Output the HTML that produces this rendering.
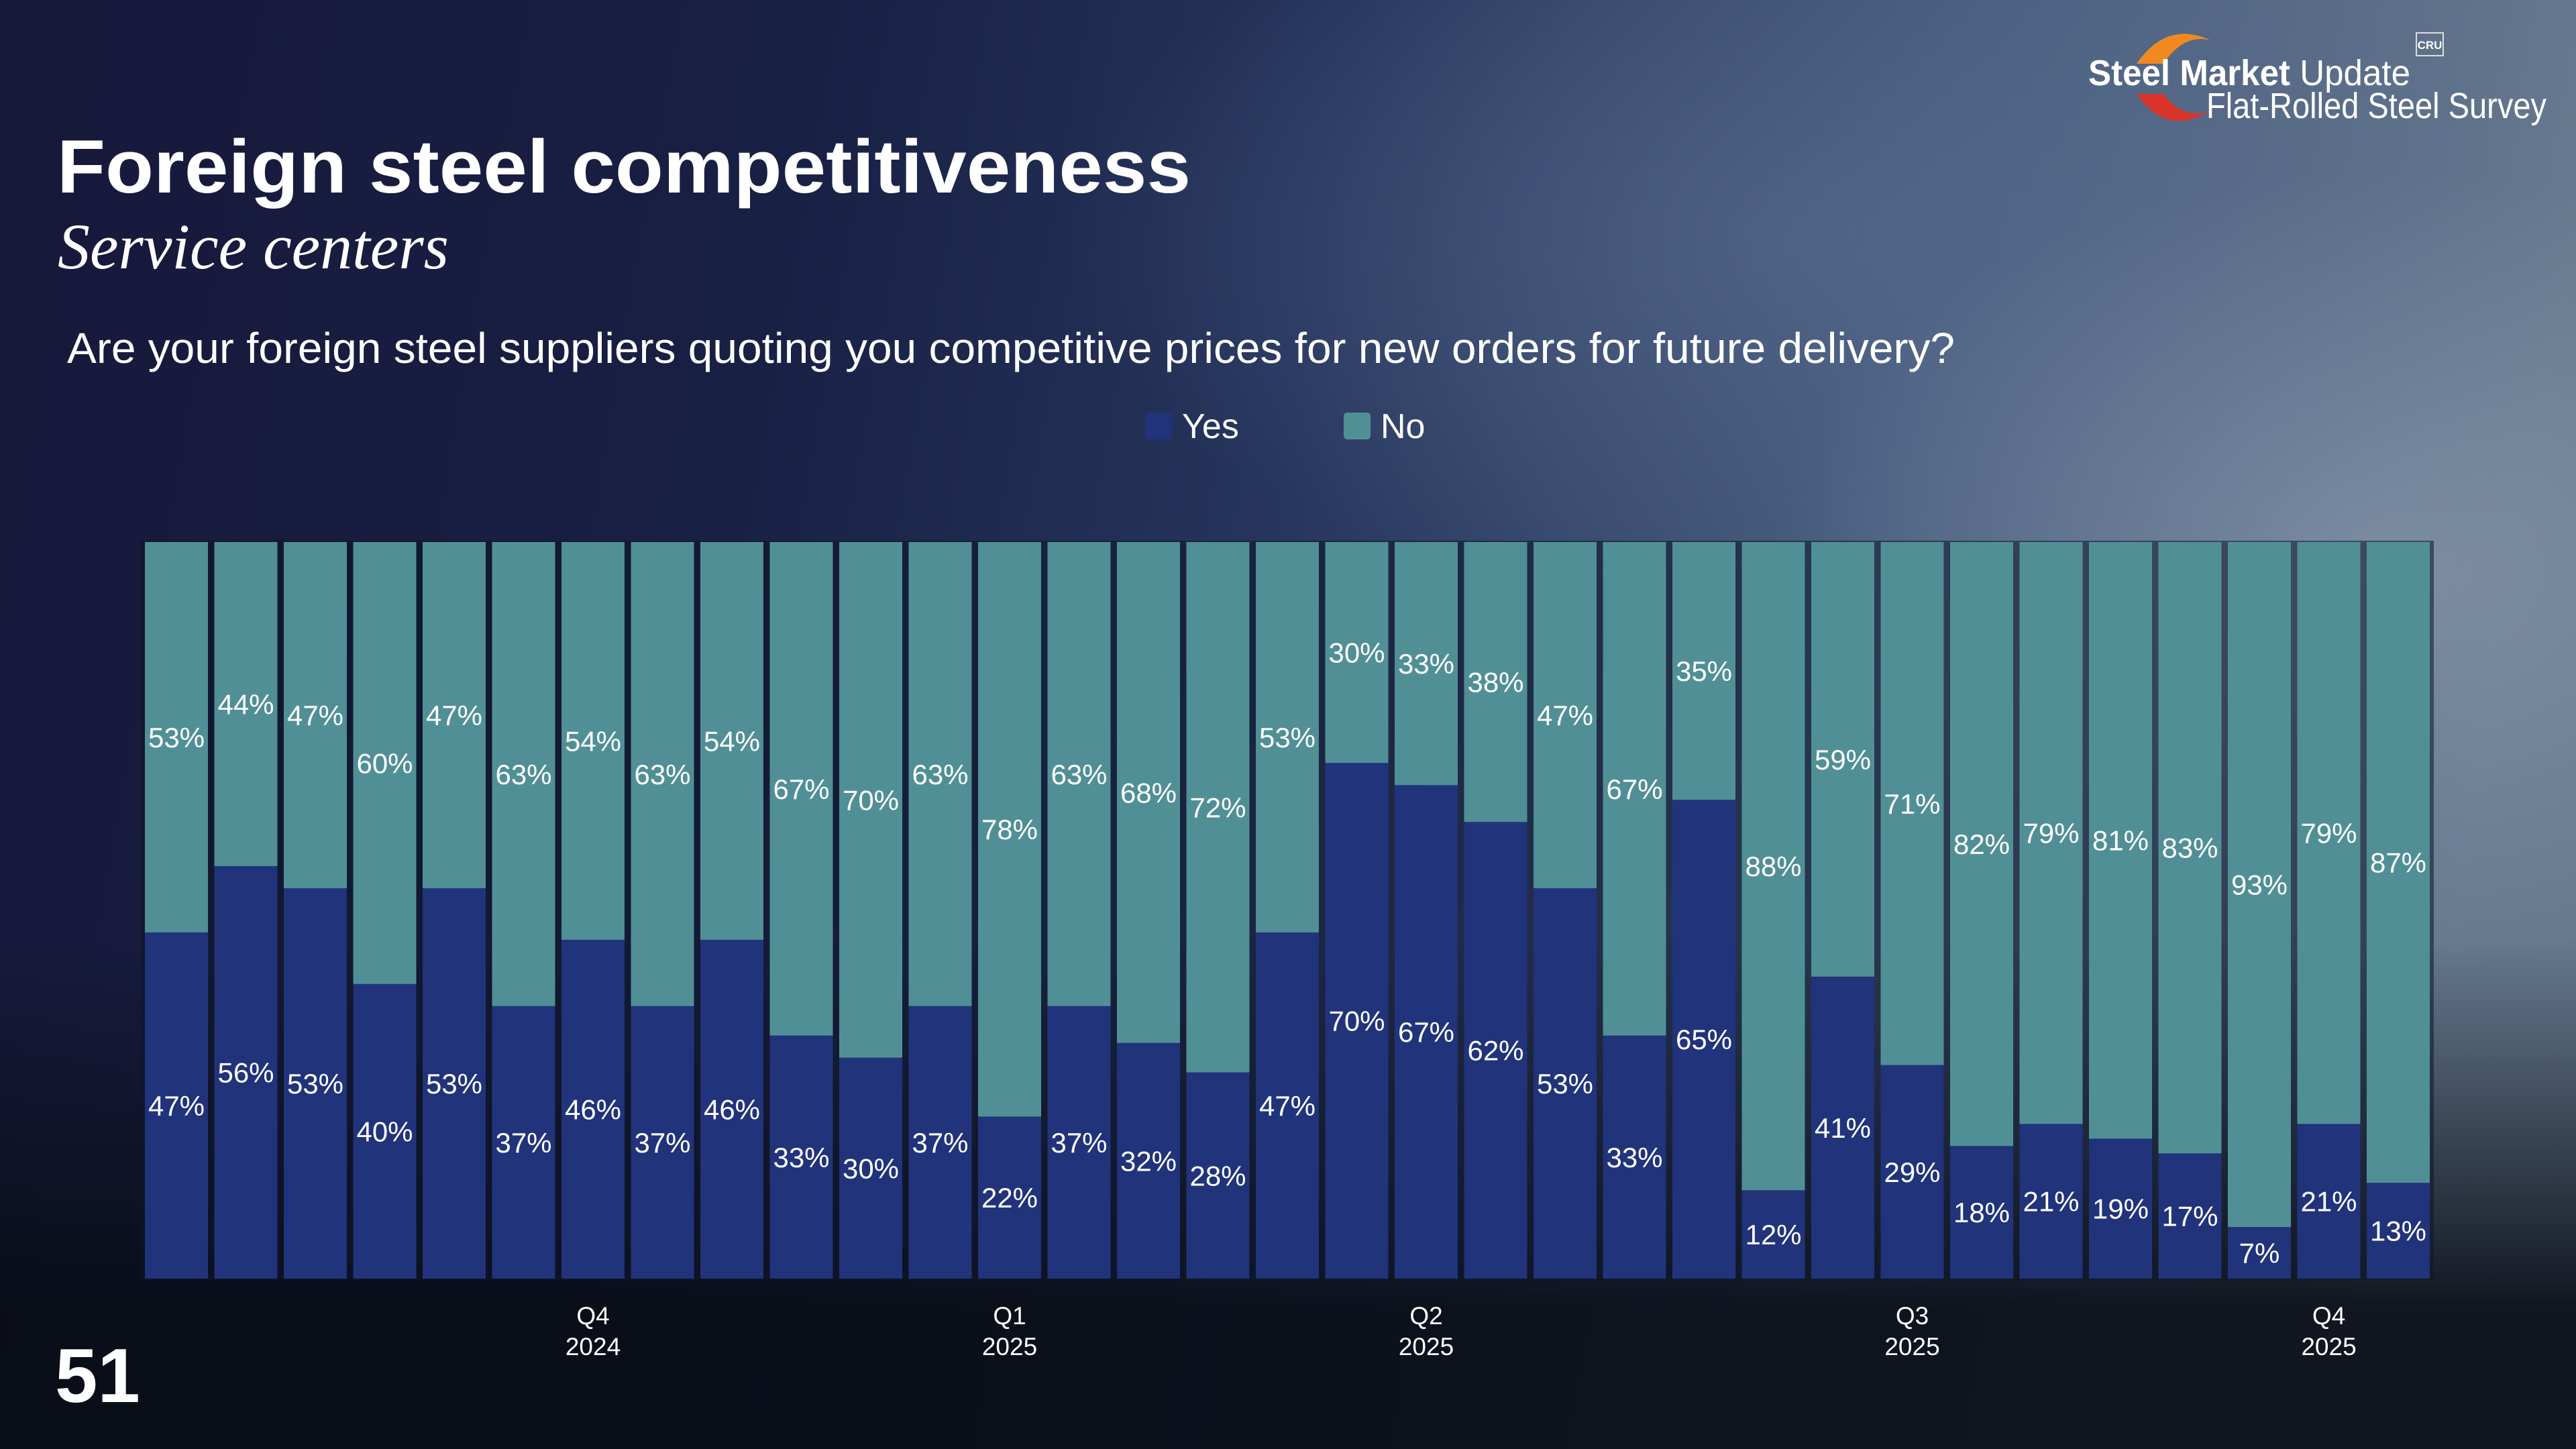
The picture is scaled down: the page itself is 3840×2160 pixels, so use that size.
<!DOCTYPE html>
<html><head><meta charset="utf-8"><style>
html,body{margin:0;padding:0;width:3840px;height:2160px;overflow:hidden;background:#0d1220;}
#bg{position:absolute;left:0;top:0;width:3840px;height:2160px;
background:
radial-gradient(ellipse 1300px 850px at 3550px 850px, rgba(150,165,185,0.5), rgba(150,165,185,0) 70%),
radial-gradient(ellipse 1600px 800px at 2700px 350px, rgba(90,110,145,0.55), rgba(90,110,145,0) 70%),
linear-gradient(180deg, rgba(0,0,0,0) 0px, rgba(0,0,0,0) 1400px, rgba(8,12,20,0.9) 1950px),
linear-gradient(100deg, #17183a 0px, #182044 1200px, #26355c 2000px, #485d7e 2900px, #66798f 3840px);}
svg{position:absolute;left:0;top:0;}
text{font-family:"Liberation Sans",sans-serif;fill:#fff;}
</style></head><body>
<div id="bg"></div>
<svg id="s" width="3840" height="2160">
<g>
<path d="M3185 95 Q3230 30 3295 60 Q3255 50 3225 95 Z" fill="#f08a20"/>
<path d="M3185 140 Q3230 205 3295 165 Q3255 180 3225 140 Z" fill="#d8342a"/>
<rect x="3602" y="49" width="40" height="34" fill="none" stroke="#ddd" stroke-width="2"/>
<text x="3622" y="73" font-size="17" font-weight="bold" text-anchor="middle">CRU</text>
<text x="3113" y="127" font-size="54" textLength="480" lengthAdjust="spacingAndGlyphs"><tspan font-weight="bold">Steel Market</tspan> Update</text>
<text x="3289" y="176" font-size="54" textLength="507" lengthAdjust="spacingAndGlyphs">Flat-Rolled Steel Survey</text>
</g>
<text x="85" y="287" font-size="112" font-weight="bold" textLength="1690" lengthAdjust="spacingAndGlyphs">Foreign steel competitiveness</text>
<text x="86" y="400" font-size="96" font-style="italic" style="font-family:'Liberation Serif',serif" textLength="583" lengthAdjust="spacingAndGlyphs">Service centers</text>
<text x="100" y="541" font-size="64" textLength="2814" lengthAdjust="spacingAndGlyphs">Are your foreign steel suppliers quoting you competitive prices for new orders for future delivery?</text>
<g>
<rect x="1707" y="615" width="40" height="40" rx="5" fill="#21337a"/>
<text x="1762" y="653" font-size="52">Yes</text>
<rect x="2003" y="615" width="40" height="40" rx="5" fill="#518f96"/>
<text x="2058" y="653" font-size="52">No</text>
</g>
<rect x="210" y="806" width="3418" height="1102" fill="#0f1628" opacity="0.55"/>
<g id="bars"></g>
<g id="xaxis"></g>
<text x="82" y="2090" font-size="114" font-weight="bold">51</text>
</svg>
<script>
const yesValues=[47,56,53,40,53,37,46,37,46,33,30,37,22,37,32,28,47,70,67,62,53,33,65,12,41,29,18,21,19,17,7,21,13];
const noValues=[53,44,47,60,47,63,54,63,54,67,70,63,78,63,68,72,53,30,33,38,47,67,35,88,59,71,82,79,81,83,93,79,87];
const quarterIndex=[6,12,18,25,31];
const quarterLabels=["Q4","Q1","Q2","Q3","Q4"];
const quarterYears=["2024","2025","2025","2025","2025"];
const NS="http://www.w3.org/2000/svg";
const plotLeft=216,pitch=103.5,barW=94,plotTop=808,plotBottom=1906;
function xPos(i){return plotLeft+i*pitch;}
function yScale(v){return (plotBottom-plotTop)*v/100;}
const g=document.getElementById('bars');
function mk(tag,attrs,parent){const e=document.createElementNS(NS,tag);for(const k in attrs)e.setAttribute(k,attrs[k]);parent.appendChild(e);return e;}
yesValues.forEach((y,i)=>{
  const n=noValues[i];
  const hy=yScale(y),hn=yScale(n);
  const x=xPos(i);
  const ry=mk('rect',{x:x,y:plotBottom-hy,width:barW,height:hy,fill:'#21337a'},g);
  
  
  const rn=mk('rect',{x:x,y:plotBottom-hy-hn,width:barW,height:hn,fill:'#518f96'},g);
  
  
  const ty=mk('text',{x:x+barW/2,y:plotBottom-hy/2+15,'font-size':42,'text-anchor':'middle'},g);
  ty.textContent=y+'%';
  
  
  const tn=mk('text',{x:x+barW/2,y:plotBottom-hy-hn/2+15,'font-size':42,'text-anchor':'middle'},g);
  tn.textContent=n+'%';
  
  
});
const xa=document.getElementById('xaxis');
quarterIndex.forEach((qi,k)=>{
  const cx=xPos(qi)+barW/2;
  const t1=mk('text',{x:cx,y:1974,'font-size':37,'text-anchor':'middle'},xa);
  t1.textContent=quarterLabels[k];
  
  
  const t2=mk('text',{x:cx,y:2020,'font-size':37,'text-anchor':'middle'},xa);
  t2.textContent=quarterYears[k];
  
  
});
</script>
</body></html>
